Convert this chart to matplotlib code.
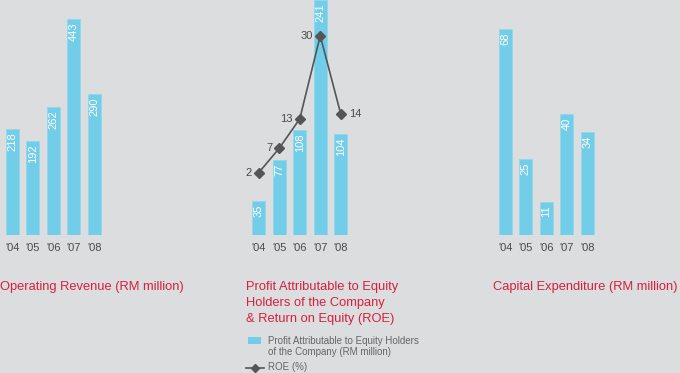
import matplotlib
matplotlib.use('Agg')
from matplotlib import pyplot as plt
from matplotlib.lines import Line2D
from matplotlib.patches import Rectangle

years = ["'04", "'05", "'06", "'07", "'08"]
revenue = [218, 192, 262, 443, 290]
profit = [35, 77, 108, 241, 104]
roe = [2, 7, 13, 30, 14]
capex = [68, 25, 11, 40, 34]

BG = '#dcdddf'
BAR = '#72cde9'
RED = '#d6203e'
GREY = '#4a4a4a'

plt.rcParams['font.family'] = ['Liberation Sans', 'DejaVu Sans']

W, H = 680, 373
fig = plt.figure(figsize=(W / 100, H / 100), dpi=100)
fig.patch.set_facecolor(BG)


def px_axes(left, bottom, width, height):
    # pixel box (from top-left) -> figure fraction axes
    return fig.add_axes([left / W, (H - bottom) / H, width / W, height / H])


def fy(y):
    return 1 - y / H


def bar_panel(ax, values, ymax):
    x = range(len(values))
    ax.bar(x, values, width=0.61, color=BAR, edgecolor='#8fd8ee', linewidth=0.6, zorder=2)
    for i, v in enumerate(values):
        ax.annotate(str(v), (i, v), xytext=(0, -2.5), textcoords='offset points',
                    rotation=90, ha='center', va='top', color='white', fontsize=8, zorder=3)
    ax.set_xlim(-0.5, len(values) - 0.5)
    ax.set_ylim(0, ymax)
    ax.set_xticks(list(x))
    ax.set_xticklabels(years, fontsize=8, color=GREY)
    ax.tick_params(axis='x', length=0, pad=5.5)
    ax.set_yticks([])
    ax.patch.set_alpha(0)
    for s in ax.spines.values():
        s.set_visible(False)


# Operating revenue
ax1 = px_axes(2, 235, 102.5, 235)
bar_panel(ax1, revenue, 482)
fig.text(0 / W, fy(287), 'Operating Revenue (RM million)', color=RED, fontsize=9.3, va='center')

# Profit & ROE
ax2 = px_axes(248.5, 235, 102.5, 235)
bar_panel(ax2, profit, 241)
ax2b = ax2.twinx()
ax2b.plot(range(len(roe)), roe, color='#555555', lw=1.2, marker='D', ms=5,
          mfc='#555555', mec='#555555', zorder=4)
ax2b.set_ylim(-10.74, 37.3)
ax2b.set_yticks([])
for s in ax2b.spines.values():
    s.set_visible(False)
for i, v in enumerate(roe):
    if i == len(roe) - 1:
        ax2b.annotate(str(v), (i, v), xytext=(6, 0), textcoords='offset points',
                      ha='left', va='center', fontsize=8, color=GREY)
    else:
        ax2b.annotate(str(v), (i, v), xytext=(-5, 0), textcoords='offset points',
                      ha='right', va='center', fontsize=8, color=GREY)

for k, line in enumerate(['Profit Attributable to Equity', 'Holders of the Company',
                          '& Return on Equity (ROE)']):
    fig.text(246.5 / W, fy(287 + 16 * k), line, color=RED, fontsize=9.3, va='center')

# legend
fig.patches.append(Rectangle((248 / W, fy(343.5)), 12.5 / W, 7 / H, transform=fig.transFigure,
                             facecolor=BAR, edgecolor='none'))
fig.lines.append(Line2D([245.5 / W, 263.5 / W], [fy(367.5), fy(367.5)], transform=fig.transFigure,
                        color='#555555', lw=1.2))
fig.lines.append(Line2D([254.5 / W], [fy(367.5)], transform=fig.transFigure, marker='D', ms=4.5,
                        color='#555555'))
fig.text(268 / W, fy(341.5), 'Profit Attributable to Equity Holders', fontsize=7, color='#666666', va='center')
fig.text(268 / W, fy(352), 'of the Company (RM million)', fontsize=7, color='#666666', va='center')
fig.text(268 / W, fy(367.5), 'ROE (%)', fontsize=7, color='#666666', va='center')

# Capital expenditure
ax3 = px_axes(495, 235, 102.5, 235)
bar_panel(ax3, capex, 77.6)
fig.text(493 / W, fy(287), 'Capital Expenditure (RM million)', color=RED, fontsize=9.3, va='center')

fig.savefig('out.png', dpi=100, facecolor=BG)
